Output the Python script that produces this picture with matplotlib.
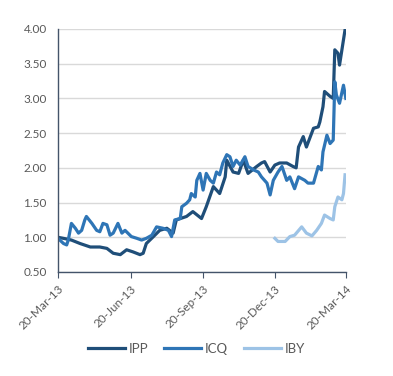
import numpy as np
import matplotlib
matplotlib.use('Agg')
import matplotlib.pyplot as plt
import matplotlib.dates as mdates

# day offsets from 20-Mar-2013 and index values
ipp_days = [0, 9, 17, 28, 41, 53, 62, 70, 79, 87, 95, 104, 108, 112, 121, 129,
            138, 146, 150, 163, 171, 182, 188, 197, 205, 212, 214, 222, 229,
            235, 241, 252, 258, 262, 269, 275, 281, 290, 298, 302, 305, 311,
            315, 324, 330, 332, 336, 338, 345, 349, 351, 355, 357, 364]
ipp_vals = [1.00, 0.98, 0.96, 0.91, 0.86, 0.86, 0.84, 0.77, 0.75, 0.82, 0.79,
            0.75, 0.77, 0.91, 1.01, 1.10, 1.13, 1.06, 1.25, 1.30, 1.37, 1.27,
            1.44, 1.73, 1.63, 1.87, 2.11, 1.94, 1.92, 2.11, 1.92, 2.02, 2.07,
            2.09, 1.94, 2.04, 2.07, 2.07, 2.02, 2.00, 2.30, 2.45, 2.30, 2.57,
            2.59, 2.66, 2.88, 3.10, 3.03, 3.00, 3.70, 3.65, 3.48, 3.99]

icq_days = [0, 7, 11, 13, 17, 22, 26, 30, 34, 36, 43, 49, 53, 57, 62, 66, 70,
            76, 81, 85, 93, 100, 106, 112, 119, 125, 133, 140, 144, 148, 155,
            157, 163, 167, 169, 174, 176, 180, 184, 188, 193, 197, 201, 205,
            209, 214, 218, 222, 226, 231, 237, 241, 248, 254, 258, 265, 269,
            273, 279, 284, 290, 294, 300, 305, 313, 317, 324, 330, 334, 336,
            341, 345, 349, 351, 353, 357, 362, 365]
icq_vals = [0.985, 0.91, 0.89, 0.96, 1.20, 1.13, 1.06, 1.10, 1.25, 1.30, 1.20,
            1.10, 1.08, 1.20, 1.18, 1.03, 1.06, 1.20, 1.06, 1.10, 1.01, 0.985,
            0.96, 0.985, 1.03, 1.15, 1.13, 1.10, 1.01, 1.25, 1.27, 1.44, 1.49,
            1.54, 1.63, 1.58, 1.82, 1.92, 1.68, 1.92, 1.82, 1.78, 1.94, 1.90,
            2.07, 2.19, 2.16, 2.02, 2.11, 2.04, 2.16, 2.02, 1.97, 1.94, 1.87,
            1.78, 1.61, 1.82, 1.94, 2.02, 1.82, 1.87, 1.70, 1.87, 1.82, 1.78,
            1.78, 2.02, 1.97, 2.23, 2.47, 2.35, 2.40, 3.24, 3.05, 2.93, 3.19,
            3.00]

iby_days = [275, 279, 288, 294, 300, 309, 315, 322, 328, 334, 338, 345, 349,
            351, 355, 360, 362, 364]
iby_vals = [0.985, 0.94, 0.94, 1.01, 1.03, 1.15, 1.06, 1.02, 1.10, 1.20, 1.32,
            1.27, 1.25, 1.44, 1.58, 1.54, 1.63, 1.90]

tick_dates = ['2013-03-20', '2013-06-20', '2013-09-20', '2013-12-20', '2014-03-20']

start = np.datetime64('2013-03-20')
def to_dates(days):
    return start + np.array(days).astype('timedelta64[D]')

plt.rcParams['font.family'] = ['Lato', 'DejaVu Sans']
grey = '#595959'
axis_col = '#44546a'

fig = plt.figure(figsize=(3.93, 3.76), dpi=100)
ax = fig.add_axes([0.1476, 0.2766, 0.7324, 0.6463])

ax.plot(to_dates(ipp_days), ipp_vals, color='#1f4e79', lw=2.3, label='IPP')
ax.plot(to_dates(icq_days), icq_vals, color='#2e75b6', lw=2.3, label='ICQ')
ax.plot(to_dates(iby_days), iby_vals, color='#9dc3e6', lw=2.3, label='IBY')

ax.set_ylim(0.5, 4.0)
ax.set_yticks(np.arange(0.5, 4.01, 0.5))
ax.set_yticklabels(['%.2f' % v for v in np.arange(0.5, 4.01, 0.5)])
ax.set_xlim(np.datetime64(tick_dates[0]), np.datetime64(tick_dates[-1]))
ax.set_xticks([np.datetime64(d) for d in tick_dates])
ax.xaxis.set_major_formatter(mdates.DateFormatter('%d-%b-%y'))
plt.setp(ax.get_xticklabels(), rotation=45, ha='right', rotation_mode='anchor')

ax.grid(axis='y', color='#d9d9d9', lw=1)
ax.set_axisbelow(True)
for s in ['top', 'right']:
    ax.spines[s].set_visible(False)
for s in ['left', 'bottom']:
    ax.spines[s].set_color(axis_col)
    ax.spines[s].set_linewidth(1)
ax.tick_params(axis='y', length=0, labelsize=8.5, labelcolor=grey, pad=8)
ax.tick_params(axis='x', length=4, color=axis_col, labelsize=8.5,
               labelcolor=grey, pad=4)

leg = fig.legend(loc='center', bbox_to_anchor=(0.5, 0.072), ncol=3,
                 frameon=False, fontsize=9.5, handlelength=2.8,
                 handletextpad=0.3, columnspacing=1.2, labelcolor=grey)

fig.savefig('out.png', dpi=100)
